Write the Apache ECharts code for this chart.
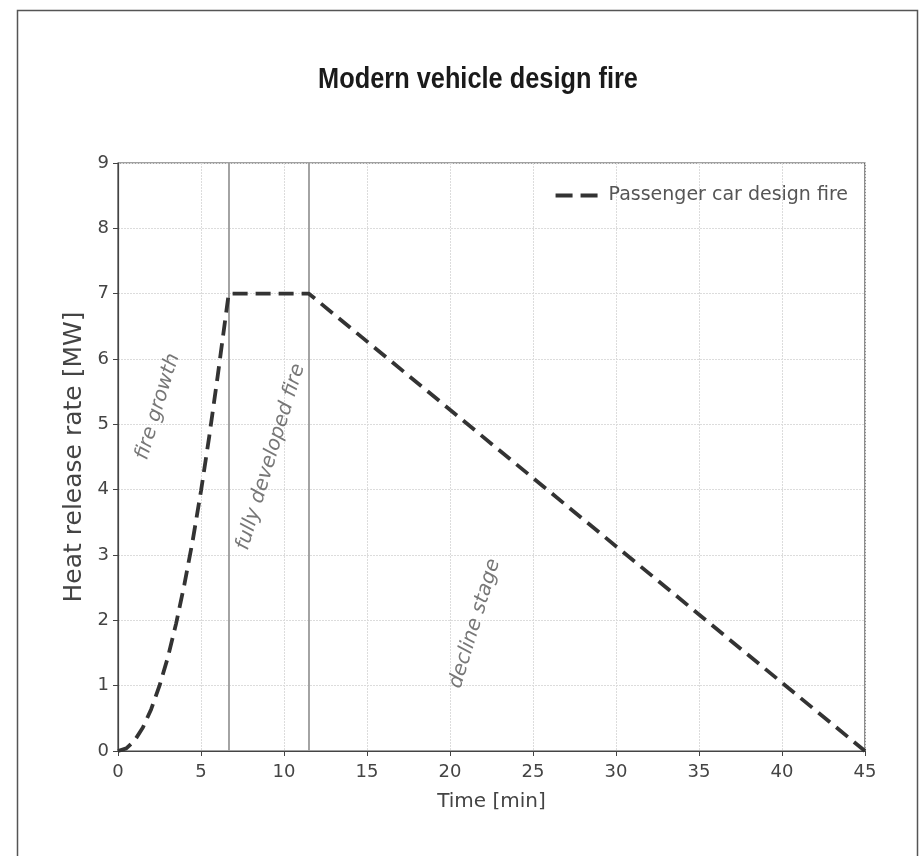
<!DOCTYPE html>
<html><head><meta charset="utf-8">
<script src="https://cdn.jsdelivr.net/npm/echarts@6/dist/echarts.min.js"></script>
<style>html,body{margin:0;padding:0;background:#fff}#c{width:921px;height:856px}</style>
</head><body><div id="c"></div>
<script>
var timeMin = [0, 0.5, 1, 1.5, 2, 2.5, 3, 3.5, 4, 4.5, 5, 5.5, 6, 6.67, 11.5, 45];
var hrrMW   = [0, 0.04, 0.16, 0.36, 0.64, 1.0, 1.43, 1.95, 2.55, 3.22, 3.98, 4.82, 5.73, 7, 7, 0];
var phaseBounds = [6.67, 11.5];
var xTicks = [0,5,10,15,20,25,30,35,40,45];
var yTicks = [0,1,2,3,4,5,6,7,8,9];
var annotations = [
  {name: 'fire growth', x: 2.4, y: 5.27},
  {name: 'fully developed fire', x: 9.2, y: 4.5},
  {name: 'decline stage', x: 21.5, y: 1.95}
];
var seriesName = 'Passenger car design fire';
var titleText = 'Modern vehicle design fire';

var chart = echarts.init(document.getElementById('c'), null, {renderer: 'canvas'});
var txt = '#444';
chart.setOption({
  backgroundColor: '#fff',
  animation: false,
  graphic: [
    {type: 'rect', shape: {x: 17.5, y: 10.5, width: 900, height: 860},
     style: {fill: 'none', stroke: '#555', lineWidth: 1.5}, silent: true, z: -1},
    {type: 'text', x: 478, y: 80, scaleX: 0.845, silent: true,
     style: {text: titleText, font: 'bold 30px "Liberation Sans"', fill: '#1a1a1a',
       textAlign: 'center', textVerticalAlign: 'middle'}}
  ],
  legend: {show: true, right: 68, top: 181, itemWidth: 42, itemHeight: 5, itemGap: 11,
    icon: 'path://M0,0h17v4h-17z M25,0h17v4h-17z',
    textStyle: {fontFamily: 'DejaVu Sans', fontSize: 19, color: '#555', padding: [0, 0, 0, 6]},
    data: [{name: seriesName, itemStyle: {color: '#333'}}]},
  grid: {left: 118, right: 56, top: 163, bottom: 105, show: true, borderColor: '#444', borderWidth: 1.2},
  xAxis: {type: 'value', min: 0, max: 45, interval: 5,
    name: 'Time [min]', nameLocation: 'middle', nameGap: 41,
    nameTextStyle: {fontFamily: 'DejaVu Sans', fontSize: 20, color: '#444'},
    axisLine: {show: true, onZero: false, lineStyle: {color: '#444', width: 1.2}},
    axisTick: {show: true, length: 5, lineStyle: {color: '#444'}},
    axisLabel: {fontFamily: 'DejaVu Sans', fontSize: 18, color: txt, margin: 12,
      formatter: function(v){ return xTicks.indexOf(v) >= 0 ? String(v) : ''; }},
    splitLine: {show: true, lineStyle: {color: '#dcdcdc', width: 1, type: [2, 1]}}},
  yAxis: {type: 'value', min: 0, max: 9, interval: 1,
    name: 'Heat release rate [MW]', nameLocation: 'middle', nameGap: 29,
    nameTextStyle: {fontFamily: 'DejaVu Sans', fontSize: 25, color: '#444'},
    axisLine: {show: true, onZero: false, lineStyle: {color: '#444', width: 1.2}},
    axisTick: {show: true, length: 5, lineStyle: {color: '#444'}},
    axisLabel: {fontFamily: 'DejaVu Sans', fontSize: 18, color: txt, margin: 9,
      formatter: function(v){ return yTicks.indexOf(v) >= 0 ? String(v) : ''; }},
    splitLine: {show: true, lineStyle: {color: '#dcdcdc', width: 1, type: [2, 1]}}},
  series: [
    {name: seriesName, type: 'line', symbol: 'none',
     data: timeMin.map(function(t, i){ return [t, hrrMW[i]]; }),
     lineStyle: {color: '#333', width: 3.8, type: [15, 8]},
     itemStyle: {color: '#333'}, z: 5,
     markLine: {silent: true, symbol: ['none', 'none'], label: {show: false},
       lineStyle: {color: '#9a9a9a', width: 1.8, type: 'solid'},
       data: phaseBounds.map(function(b){ return {xAxis: b}; })}},
    {name: 'annotations', type: 'scatter', symbolSize: 0, silent: true,
     data: annotations.map(function(a){ return {name: a.name, value: [a.x, a.y]}; }),
     label: {show: true, position: 'inside', rotate: 73, formatter: '{b}',
       fontFamily: 'DejaVu Sans', fontStyle: 'italic', fontSize: 20, color: '#555'}}
  ]
});
</script></body></html>
